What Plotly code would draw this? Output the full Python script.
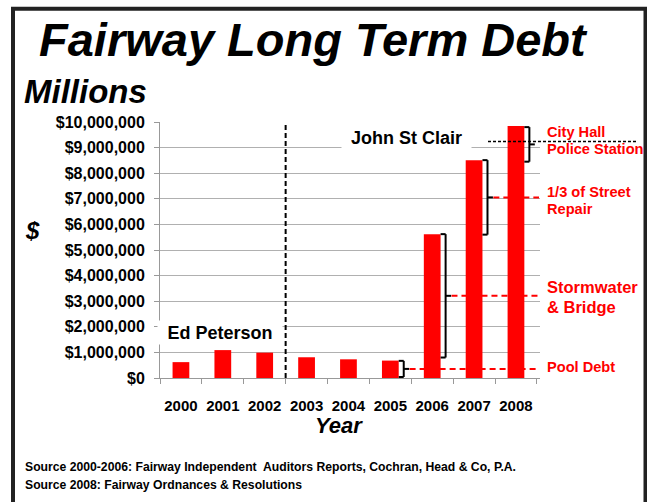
import plotly.graph_objects as go

years = ["2000", "2001", "2002", "2003", "2004", "2005", "2006", "2007", "2008"]
debt = [620000, 1090000, 990000, 810000, 730000, 680000, 5620000, 8510000, 9840000]

# brackets: category index, low, high
br_idx = [5, 6, 7, 8]
br_low = [40000, 800000, 5600000, 8450000]
br_high = [670000, 5620000, 8510000, 9800000]
br_labels = [["Pool Debt"], ["Stormwater", "& Bridge"], ["1/3 of Street", "Repair"], ["City Hall", "Police Station"]]
br_label_y = [[420000], [3560000, 2770000], [7280000, 6610000], [9600000, 8930000]]
br_label_size = [14.6, 16.5, 14.6, 14.6]

W, H = 647, 502
L, R, T, B = 160, 540, 122, 377.7  # plot area in page pixels


def px(x):
    return (x - L) / (R - L)


def py(y):
    return (B - y) / (B - T)


RED = "#ff0000"
FONT = "Liberation Sans"

fig = go.Figure()
fig.add_trace(go.Bar(x=years, y=debt, marker=dict(color=RED, line=dict(width=0)), showlegend=False))

shapes = []
# frame
shapes.append(dict(type="rect", xref="paper", yref="paper", x0=px(13), x1=px(645.5), y0=py(9), y1=py(540),
                   line=dict(color="#222222", width=4), fillcolor="rgba(0,0,0,0)", layer="above"))
# vertical dashed divider between 2002 and 2003
shapes.append(dict(type="line", xref="x", yref="y", x0=2.5, x1=2.5, y0=0, y1=10000000,
                   line=dict(color="black", width=2, dash="5px,3px")))

for k in range(len(br_idx)):
    i = br_idx[k]
    lo, hi = br_low[k], br_high[k]
    mid = (lo + hi) / 2
    xv = i + 0.32
    for (xa, xb, ya, yb) in [(xv, xv, lo, hi), (xv - 0.12, xv, hi, hi), (xv - 0.12, xv, lo, lo), (xv, xv + 0.13, mid, mid)]:
        shapes.append(dict(type="line", xref="x", yref="y", x0=xa, x1=xb, y0=ya, y1=yb,
                           line=dict(color="black", width=2)))
    if k < 3:
        shapes.append(dict(type="line", xref="x", yref="y", x0=xv + 0.14, x1=8.55, y0=mid, y1=mid,
                           line=dict(color=RED, width=2, dash="6px,4px")))
    else:
        shapes.append(dict(type="line", xref="paper", yref="y", x0=px(488), x1=px(638), y0=9240000, y1=9240000,
                           line=dict(color="black", width=1.5, dash="3px,2px")))

ann = []


def text(t, x, y, size, xanchor="center", color="black", italic=False, bold=True, family=FONT, **kw):
    ann.append(dict(text=t, xref="paper", yref="paper", x=px(x), y=py(y), xanchor=xanchor, yanchor="middle",
                    showarrow=False,
                    font=dict(family=family, size=size, color=color,
                              weight="bold" if bold else "normal", style="italic" if italic else "normal"),
                    **kw))


text("Fairway Long Term Debt", 313, 40, 47, italic=True)
text("Millions", 22, 92, 33, xanchor="left", italic=True)
text("$", 32, 230, 24, italic=True)
text("Year", 339, 425, 22, italic=True)
text("Ed Peterson", 220, 332, 18, bgcolor="white", width=124, height=23, borderpad=0)
text("John St Clair", 406.5, 138, 18, bgcolor="white", width=129, height=24, borderpad=0)
text("Source 2000-2006: Fairway Independent  Auditors Reports, Cochran, Head & Co, P.A.", 23, 467, 12.2,
     xanchor="left")
text("Source 2008: Fairway Ordnances & Resolutions", 23, 485, 12.2, xanchor="left")

for k in range(len(br_labels)):
    for t, yv in zip(br_labels[k], br_label_y[k]):
        ann.append(dict(text=t, xref="paper", yref="y", x=px(545), y=yv, xanchor="left", yanchor="middle",
                        showarrow=False,
                        font=dict(family=FONT, size=br_label_size[k], color=RED, weight="bold")))

fig.update_layout(
    width=W, height=H,
    margin=dict(l=L, r=W - R, t=T, b=H - B, pad=0),
    paper_bgcolor="white", plot_bgcolor="white",
    bargap=0.6,
    shapes=shapes,
    annotations=ann,
    xaxis=dict(type="category", showline=True, linecolor="#999999", linewidth=1,
               ticks="outside", tickson="boundaries", ticklen=5, tickcolor="#999999",
               tickfont=dict(family=FONT, size=15, color="black", weight="bold"),
               tickangle=0, ticklabelstandoff=14, showgrid=False, fixedrange=True),
    yaxis=dict(range=[0, 10000000], dtick=1000000, tickformat="$,.0f",
               showline=True, linecolor="#999999", linewidth=1,
               ticks="outside", ticklen=5, tickcolor="#999999",
               gridcolor="#b0b0b0", gridwidth=1, zeroline=False,
               tickfont=dict(family=FONT, size=16, color="black", weight="bold"),
               ticklabelstandoff=6, fixedrange=True),
)

fig.write_html("out.html", config={"displayModeBar": False},
               post_script="document.body.style.margin='0';document.body.style.overflow='hidden';")
